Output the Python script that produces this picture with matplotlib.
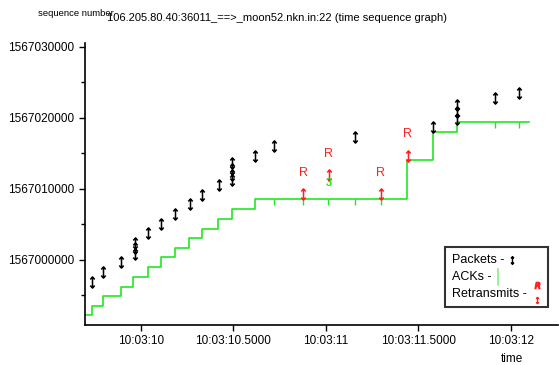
import matplotlib
matplotlib.use("Agg")
import matplotlib.pyplot as plt
from matplotlib.lines import Line2D
from matplotlib.path import Path
from matplotlib.ticker import FixedLocator, MultipleLocator
from matplotlib.offsetbox import (AnchoredOffsetbox, TextArea, DrawingArea,
                                  HPacker, VPacker)

plt.rcParams["font.family"] = ["Liberation Sans", "DejaVu Sans"]

BASE = 1567000000

# data packets: time (s past 10:03) and sequence offset from BASE
pkt_t = [9.733, 9.796, 9.890, 9.966, 9.966, 9.966, 10.038, 10.106, 10.184,
         10.265, 10.331, 10.422, 10.494, 10.494, 10.494, 10.494, 10.618,
         10.719, 11.158, 11.581, 11.710, 11.710, 11.710, 11.914, 12.043]
pkt_seq = [-3056, -1648, -239, 845, 1643, 2437, 3756, 5070, 6479,
           7887, 9202, 10521, 11268, 11972, 12817, 13662, 14690,
           16056, 17366, 18718, 19859, 20845, 21831, 22859, 23563]

# retransmissions
rtx_t = [10.877, 11.016, 11.297, 11.442]
rtx_seq = [9249, 11972, 9249, 14690]

# cumulative ACK step line
ack_t = [9.697, 9.734, 9.796, 9.890, 9.958, 10.036, 10.106, 10.184, 10.261,
         10.331, 10.415, 10.494, 10.618, 11.439, 11.580, 11.710, 12.099]
ack_seq = [-7746, -6437, -5070, -3761, -2437, -944, 380, 1732, 3056,
           4366, 5732, 7225, 8549, 14085, 18070, 19394, 19394]

# duplicate ACKs
dup_t = [10.719, 10.877, 11.012, 11.157, 11.297, 11.914, 12.043]
dup_seq = [8549, 8549, 8549, 8549, 8549, 19394, 19394]

# SACK / triple-dup marker
sack_t = [11.016]
sack_seq = [10803]
sack_label = ["3"]

xtick_pos = [10.0, 10.5, 11.0, 11.5, 12.0]
xtick_labels = ["10:03:10", "10:03:10.5000", "10:03:11", "10:03:11.5000", "10:03:12"]
ytick_pos = [0, 10000, 20000, 30000]
ytick_labels = [str(BASE + v) for v in ytick_pos]

GREEN = "#22e622"
RED = "#ff2020"

# thin double-headed arrow marker
arrow = Path(
    [(0, -1), (0, 1), (-0.4, 0.55), (0, 1), (0.4, 0.55),
     (-0.4, -0.55), (0, -1), (0.4, -0.55)],
    [Path.MOVETO, Path.LINETO, Path.MOVETO, Path.LINETO, Path.LINETO,
     Path.MOVETO, Path.LINETO, Path.LINETO],
)
down_tick = Path([(0, 0), (0, -1)], [Path.MOVETO, Path.LINETO])

fig = plt.figure(figsize=(5.59, 3.65), dpi=100)
ax = fig.add_axes([0.152, 0.1096, 0.846, 0.7726])

ax.step(ack_t, ack_seq, where="post", color=GREEN, lw=1.2)
ax.plot(dup_t, dup_seq, ls="none", marker=down_tick, ms=8, mew=1.0, color=GREEN)

ax.plot(pkt_t, pkt_seq, ls="none", marker=arrow, ms=8, mew=1.1,
        color="black", fillstyle="none")
ax.plot(rtx_t, rtx_seq, ls="none", marker=arrow, ms=8, mew=1.1,
        color=RED, fillstyle="none")
for t, s in zip(rtx_t, rtx_seq):
    ax.annotate("R", (t, s), xytext=(0, 11), textcoords="offset points",
                ha="center", va="bottom", color=RED, fontsize=9)
for t, s, lab in zip(sack_t, sack_seq, sack_label):
    ax.text(t, s, lab, color=GREEN, ha="center", va="center", fontsize=8,
            fontweight="bold")

ax.set_xlim(9.697, 12.254)
ax.set_ylim(-9155, 30563)
ax.xaxis.set_major_locator(FixedLocator(xtick_pos))
ax.set_xticklabels(xtick_labels)
ax.yaxis.set_major_locator(FixedLocator(ytick_pos))
ax.set_yticklabels(ytick_labels)
ax.yaxis.set_minor_locator(MultipleLocator(5000))
ax.tick_params(axis="both", labelsize=8.5, length=4, width=1)
ax.tick_params(axis="y", which="minor", length=3, width=1)
for side in ("top", "right"):
    ax.spines[side].set_visible(False)
for side in ("left", "bottom"):
    ax.spines[side].set_linewidth(1.2)

fig.text(38 / 559, 1 - 16 / 365, "sequence number", fontsize=6.8, va="baseline")
fig.text(107 / 559, 1 - 21 / 365,
         "106.205.80.40:36011_==>_moon52.nkn.in:22 (time sequence graph)",
         fontsize=8.0, va="baseline")
fig.text(512 / 559, 1 - 362 / 365, "time", fontsize=8.5, ha="center", va="baseline")


# legend box: label text followed directly by its symbol
def legend_row(label, artists, w=8, h=9):
    da = DrawingArea(w, h, 0, 0)
    for a in artists:
        da.add_artist(a)
    txt = TextArea(label, textprops=dict(fontsize=9))
    return HPacker(children=[txt, da], align="center", pad=0, sep=0)


rows = [
    legend_row("Packets - ", [Line2D([3], [5], ls="none", marker=arrow, ms=5.5,
                                     mew=1.0, color="black")]),
    legend_row("ACKs - ", [Line2D([2, 2], [-1, 10], color="#88ee88", lw=1.2)]),
    legend_row("Retransmits - ", [
        Line2D([5], [11], ls="none", marker="$R$", ms=4.5, color=RED),
        Line2D([5], [0], ls="none", marker=arrow, ms=4.5, mew=1.0, color=RED),
    ]),
]
box = AnchoredOffsetbox(loc="lower left",
                        child=VPacker(children=rows, align="left", pad=0, sep=3),
                        bbox_to_anchor=(0.761, 0.064), bbox_transform=ax.transAxes,
                        frameon=True, borderpad=0, pad=0.5)
box.patch.set_edgecolor("#333333")
box.patch.set_linewidth(1.5)
ax.add_artist(box)

fig.savefig("out.png", dpi=100)
